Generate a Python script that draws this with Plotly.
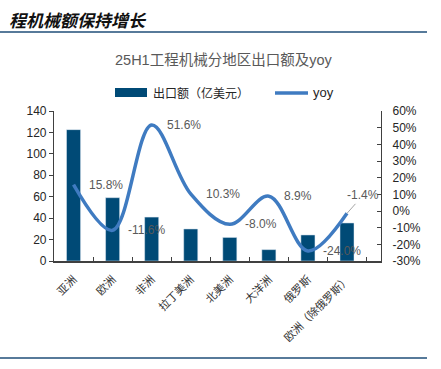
import plotly.graph_objects as go

categories = ["亚洲", "欧洲", "非洲", "拉丁美洲", "北美洲", "大洋洲", "俄罗斯", "欧洲（除俄罗斯）"]
export_values = [122.6, 59.1, 41.0, 29.9, 22.0, 10.6, 24.3, 35.5]
yoy_values = [15.8, -11.6, 51.6, 10.3, -8.0, 8.9, -24.0, -1.4]
left_ticks = [0, 20, 40, 60, 80, 100, 120, 140]
right_ticks = [-30, -20, -10, 0, 10, 20, 30, 40, 50, 60]
right_ticktext = [f"{v}%" for v in right_ticks]

W, H = 441, 369
BAR = "#004A76"
LINE = "#3F7BC1"
FONT = "Liberation Sans, Arial, Noto Sans CJK SC, sans-serif"
CJK = "Noto Sans CJK SC, Liberation Sans, sans-serif"


def px(x):
    return x / W


def py(y):
    return 1 - y / H


fig = go.Figure()
fig.add_trace(go.Bar(x=categories, y=export_values, marker_color=BAR, width=0.36,
                     name="出口额（亿美元）", showlegend=False))
fig.add_trace(go.Scatter(x=categories, y=yoy_values, yaxis="y2", mode="lines",
                         line=dict(color=LINE, width=3.5, shape="spline", smoothing=1.0),
                         name="yoy", showlegend=False))

annotations = []
for i, (c, v) in enumerate(zip(categories, yoy_values)):
    if i == len(categories) - 1:
        annotations.append(dict(x=c, y=v, xref="x", yref="y2", text=f"{v:.1f}%",
                                showarrow=True, ax=16, ay=-18, arrowhead=0, arrowwidth=1,
                                arrowcolor="#A6A6A6", standoff=0,
                                font=dict(size=12, color="#595959", family=FONT)))
    else:
        annotations.append(dict(x=c, y=v, xref="x", yref="y2", text=f"{v:.1f}%",
                                showarrow=False, xanchor="left", yanchor="middle", xshift=13,
                                font=dict(size=12, color="#595959", family=FONT)))

# header and title
annotations.append(dict(x=px(7), y=py(20), xref="paper", yref="paper", xanchor="left",
                        yanchor="middle", showarrow=False, text="<b><i>程机械额保持增长</i></b>",
                        font=dict(size=17, color="#111111", family=CJK)))
annotations.append(dict(x=px(223), y=py(60), xref="paper", yref="paper", xanchor="center",
                        yanchor="middle", showarrow=False, text="25H1工程机械分地区出口额及yoy",
                        font=dict(size=14.5, color="#595959", family=FONT)))
# legend texts
annotations.append(dict(x=px(151), y=py(93), xref="paper", yref="paper", xanchor="left",
                        yanchor="middle", showarrow=False, text="出口额（亿美元）",
                        font=dict(size=12, color="#262626", family=CJK)))
annotations.append(dict(x=px(311), y=py(93), xref="paper", yref="paper", xanchor="left",
                        yanchor="middle", showarrow=False, text="yoy",
                        font=dict(size=13, color="#262626", family=FONT)))

shapes = [
    dict(type="line", xref="paper", yref="paper", x0=0, x1=px(427), y0=py(32), y1=py(32),
         line=dict(color="#1F4E79", width=1.5)),
    dict(type="line", xref="paper", yref="paper", x0=0, x1=px(427), y0=py(358), y1=py(358),
         line=dict(color="#1F4E79", width=1.5)),
    dict(type="rect", xref="paper", yref="paper", x0=px(115), x1=px(147), y0=py(97), y1=py(88),
         fillcolor=BAR, line=dict(width=0)),
    dict(type="line", xref="paper", yref="paper", x0=px(275), x1=px(308), y0=py(93), y1=py(93),
         line=dict(color=LINE, width=3.5)),
]

axis_line = "#404040"
fig.update_layout(
    width=W, height=H, margin=dict(l=0, r=0, t=0, b=0, autoexpand=False),
    paper_bgcolor="white", plot_bgcolor="white",
    showlegend=False, bargap=0.64,
    font=dict(family=FONT, size=12, color="#262626"),
    xaxis=dict(domain=[px(54), px(381)], type="category", tickangle=-45, automargin=False,
               showline=True, linecolor=axis_line, linewidth=1.5,
               ticks="inside", ticklen=4, tickcolor=axis_line, tickson="boundaries",
               ticklabelstandoff=6,
               tickfont=dict(size=11, family=CJK, color="#333333"), showgrid=False,
               anchor="y"),
    yaxis=dict(domain=[py(261), py(111)], range=[0, 140], tickvals=left_ticks, automargin=False,
               showline=True, linecolor=axis_line, linewidth=1.2, ticks="outside",
               ticklen=4, tickcolor=axis_line, showgrid=False, zeroline=False,
               tickfont=dict(size=12, color="#262626")),
    yaxis2=dict(overlaying="y", side="right", range=[-30, 60], tickvals=right_ticks,
                ticktext=right_ticktext, showline=True, linecolor=axis_line, linewidth=1.2,
                ticks="inside", ticklen=4, tickcolor=axis_line, showgrid=False, automargin=False,
                zeroline=False, ticklabelstandoff=8, anchor="x",
                tickfont=dict(size=12, color="#262626")),
    annotations=annotations, shapes=shapes,
)

fig.write_html("out.html", config={"displayModeBar": False},
               post_script="document.body.style.margin='0px';document.body.style.padding='0px';")
